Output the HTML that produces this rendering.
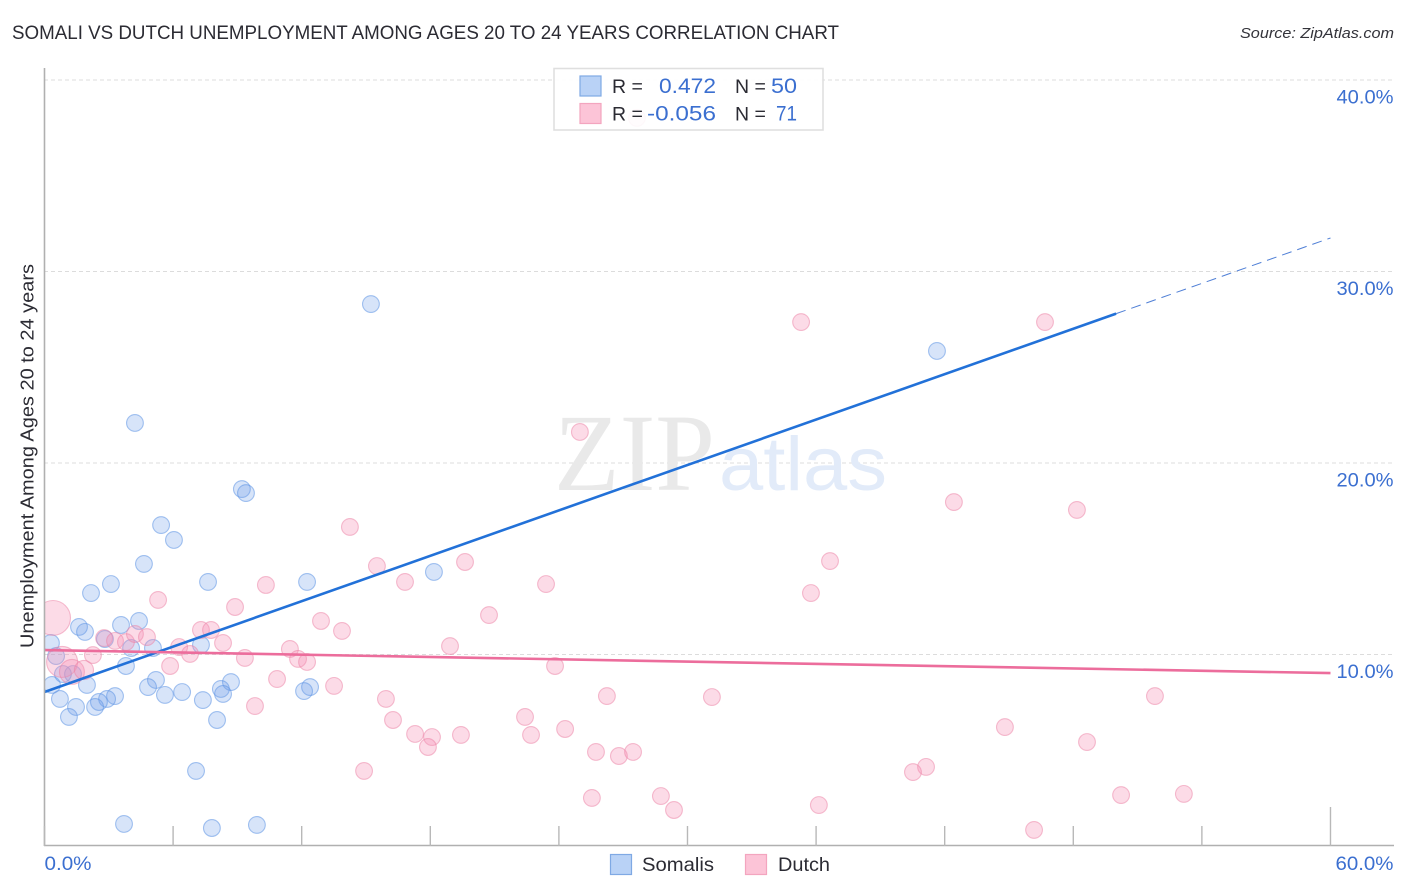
<!DOCTYPE html>
<html lang="en">
<head>
<meta charset="utf-8">
<title>Somali vs Dutch Unemployment Correlation Chart</title>
<style>
html,body{margin:0;padding:0;background:#fff;width:1406px;height:892px;overflow:hidden}
svg{display:block;font-family:"Liberation Sans",sans-serif}
</style>
</head>
<body>
<svg id="chart" width="1406" height="892" viewBox="0 0 1406 892" xmlns="http://www.w3.org/2000/svg">
<text x="12" y="39" font-size="19" fill="#2b2b33" textLength="827" lengthAdjust="spacingAndGlyphs">SOMALI VS DUTCH UNEMPLOYMENT AMONG AGES 20 TO 24 YEARS CORRELATION CHART</text>
<text x="1394" y="38" font-size="15" font-style="italic" fill="#33333a" text-anchor="end" textLength="154" lengthAdjust="spacingAndGlyphs">Source: ZipAtlas.com</text>
<g id="grid"></g>
<g>
<text x="554" y="490" font-family="'Liberation Serif',serif" font-size="110" fill="#e9e9e9" textLength="161" lengthAdjust="spacingAndGlyphs">ZIP</text>
<text x="719" y="490" font-size="76" fill="#e2ebf9" textLength="168" lengthAdjust="spacingAndGlyphs">atlas</text>
</g>
<g id="points"></g>
<rect x="0" y="60" width="44" height="790" fill="#fff"/>
<g id="lines"></g>
<g id="axes"></g>
<g>
<rect x="554" y="68.5" width="269" height="61.5" fill="#fff" fill-opacity="0.9" stroke="#dfdfdf" stroke-width="1.6"/>
<rect x="580" y="76" width="21" height="20" fill="#b9d2f6" stroke="#7fa9e4" stroke-width="1.2"/>
<rect x="580" y="103.5" width="21" height="20" fill="#fcc4d7" stroke="#f3a5bf" stroke-width="1.2"/>
<g font-size="19.5" fill="#2b2b33">
<text x="612" y="93">R =</text>
<text x="612" y="120.5">R =</text>
<text x="735" y="93">N =</text>
<text x="735" y="120.5">N =</text>
</g>
<g font-size="21.5" fill="#3b6fd0">
<text x="716" y="93" text-anchor="end" textLength="57" lengthAdjust="spacingAndGlyphs">0.472</text>
<text x="716" y="120.5" text-anchor="end" textLength="69" lengthAdjust="spacingAndGlyphs">-0.056</text>
<text x="797" y="93" text-anchor="end" textLength="26" lengthAdjust="spacingAndGlyphs">50</text>
<text x="797" y="120.5" text-anchor="end" textLength="21" lengthAdjust="spacingAndGlyphs">71</text>
</g>
</g>
<text transform="translate(33.5,648) rotate(-90)" font-size="18.5" fill="#2b2b33" textLength="384" lengthAdjust="spacingAndGlyphs">Unemployment Among Ages 20 to 24 years</text>
<g>
<rect x="610.5" y="854.5" width="21" height="20" fill="#b9d2f6" stroke="#7fa9e4" stroke-width="1.2"/>
<text x="642" y="871" font-size="19.5" fill="#2b2b33" textLength="72" lengthAdjust="spacingAndGlyphs">Somalis</text>
<rect x="745.5" y="854.5" width="21" height="20" fill="#fcc4d7" stroke="#f3a5bf" stroke-width="1.2"/>
<text x="778" y="871" font-size="19.5" fill="#2b2b33" textLength="52" lengthAdjust="spacingAndGlyphs">Dutch</text>
</g>
</svg>
<script>
// Chart data (percent units)
const xTickValues = [0, 6, 12, 18, 24, 30, 36, 42, 48, 54, 60];
const xLabelValues = [0, 60];
const xTickLabels = ['0.0%', '60.0%'];
const yTickValues = [10, 20, 30, 40];
const yTickLabels = ['10.0%', '20.0%', '30.0%', '40.0%'];

const somaliX = [15.23,41.64,4.22,9.21,9.40,5.44,6.04,4.64,18.17,7.63,12.25,3.10,2.17,4.41,3.57,1.61,1.89,2.82,0.30,7.30,5.06,4.04,0.54,3.80,5.20,8.70,4.83,8.23,12.39,12.11,6.42,5.62,8.33,1.98,0.35,1.33,0.86,0.72,3.29,2.92,7.39,2.54,2.36,1.47,1.14,8.05,7.07,3.71,7.81,9.91];
const somaliY = [28.30,25.85,22.09,18.64,18.43,16.76,15.98,14.73,14.31,13.79,13.79,13.68,13.21,11.75,11.54,11.44,11.18,10.81,10.60,10.50,10.34,10.34,9.92,9.40,8.67,8.56,8.30,8.20,8.30,8.09,8.04,7.89,7.94,8.41,8.41,8.98,8.98,7.68,7.83,7.68,7.62,7.52,7.26,7.26,6.74,6.58,3.92,1.15,0.94,1.10];

const dutchX = [0.40,0.82,1.28,1.84,5.30,8.89,10.33,12.90,13.88,7.30,7.77,2.78,3.29,3.80,4.22,4.78,6.28,8.33,2.26,6.79,11.45,11.83,12.25,5.86,9.35,10.85,13.51,9.82,27.64,24.98,35.30,46.68,42.43,48.17,14.25,36.65,15.51,19.62,23.40,16.82,35.76,20.74,18.92,23.82,26.24,31.14,51.81,15.93,16.26,22.42,24.29,44.81,48.64,17.29,18.08,19.43,22.70,17.89,25.73,26.80,27.46,41.13,40.52,14.91,25.54,28.76,29.37,36.13,50.23,53.16,46.17];
const dutchY = [11.91,9.61,9.09,9.19,12.85,12.48,13.63,11.75,11.23,11.28,11.28,10.86,10.71,10.65,11.07,10.91,10.39,10.60,9.97,10.03,10.29,9.77,9.61,9.40,9.82,8.72,8.36,7.31,38.02,21.62,27.36,27.36,17.96,17.55,16.66,14.88,14.62,14.83,13.68,13.79,13.21,12.06,10.44,9.40,7.83,7.78,7.83,7.68,6.58,6.74,6.11,6.21,5.43,5.85,5.69,5.80,5.80,5.17,4.91,4.70,4.91,4.13,3.86,3.92,2.51,2.61,1.88,2.14,2.66,2.72,0.84];
const dutchWeights = [4.3,3.4,2.2,1.3];

const somaliTrendX = [0, 50];
const somaliTrendY = [8.04, 27.8];
const somaliTrendDashX = [50, 60];
const somaliTrendDashY = [27.8, 31.75];
const dutchTrendX = [0, 60];
const dutchTrendY = [10.23, 9.03];

// Axis functions
const xScale = v => 44.5 + v * 21.433;
const yScale = v => 846 - v * 19.15;
const rScale = w => 8.4 * Math.sqrt(w);

const NS = 'http://www.w3.org/2000/svg';
function make(parent, tag, attrs, text) {
  const el = document.createElementNS(NS, tag);
  for (const k in attrs) el.setAttribute(k, attrs[k]);
  if (text !== undefined) el.textContent = text;
  parent.appendChild(el);
  return el;
}

const grid = document.getElementById('grid');
const axes = document.getElementById('axes');
const points = document.getElementById('points');
const lines = document.getElementById('lines');

yTickValues.forEach((v, i) => {
  const line = make(grid, 'line', {x1: 44, x2: 1394, y1: yScale(v), y2: yScale(v), stroke: '#dcdcdc', 'stroke-width': 1, 'stroke-dasharray': '4 3'});
  
  
  const label = make(axes, 'text', {x: 1393.5, y: yScale(v) + 23.5, 'text-anchor': 'end', 'font-size': 19.5, fill: '#3b6fd0', textLength: 57, lengthAdjust: 'spacingAndGlyphs'}, yTickLabels[i]);
  
  
});

const yAxis = make(axes, 'line', {x1: 44.5, x2: 44.5, y1: 68, y2: 846, stroke: '#b0b0b0', 'stroke-width': 1.6});


const xAxis = make(axes, 'line', {x1: 44, x2: 1394, y1: 845.5, y2: 845.5, stroke: '#b0b0b0', 'stroke-width': 1.6});



xTickValues.forEach(v => {
  const top = v === 60 ? 807 : 826;
  const tick = make(axes, 'line', {x1: xScale(v), x2: xScale(v), y1: top, y2: 846, stroke: '#b8b8b8', 'stroke-width': 1.4});
  
  
});

xLabelValues.forEach((v, i) => {
  const isLast = i === xLabelValues.length - 1;
  const label = make(axes, 'text', {x: isLast ? 1393.5 : xScale(v), y: 870, 'text-anchor': isLast ? 'end' : 'start', 'font-size': 19.5, fill: '#3b6fd0', textLength: isLast ? 58 : 47, lengthAdjust: 'spacingAndGlyphs'}, xTickLabels[i]);
  
  
});

somaliX.forEach((v, i) => {
  const c = make(points, 'circle', {cx: xScale(v), cy: yScale(somaliY[i]), r: rScale(1), fill: '#6a9dea', 'fill-opacity': 0.27, stroke: '#5d93e4', 'stroke-opacity': 0.55, 'stroke-width': 1.1});
  
  
});

dutchX.forEach((v, i) => {
  const c = make(points, 'circle', {cx: xScale(v), cy: yScale(dutchY[i]), r: rScale(dutchWeights[i] || 1), fill: '#f590b3', 'fill-opacity': 0.32, stroke: '#ec7fa4', 'stroke-opacity': 0.5, 'stroke-width': 1.1});
  
  
});

const blueSolid = make(lines, 'line', {x1: xScale(somaliTrendX[0]), y1: yScale(somaliTrendY[0]), x2: xScale(somaliTrendX[1]), y2: yScale(somaliTrendY[1]), stroke: '#2271d8', 'stroke-width': 2.6});


const blueDash = make(lines, 'line', {x1: xScale(somaliTrendDashX[0]), y1: yScale(somaliTrendDashY[0]), x2: xScale(somaliTrendDashX[1]), y2: yScale(somaliTrendDashY[1]), stroke: '#4f7fd6', 'stroke-width': 1, 'stroke-dasharray': '10 6'});


const pinkSolid = make(lines, 'line', {x1: xScale(dutchTrendX[0]), y1: yScale(dutchTrendY[0]), x2: xScale(dutchTrendX[1]), y2: yScale(dutchTrendY[1]), stroke: '#ec6d9c', 'stroke-width': 2.6});


</script>
</body>
</html>
